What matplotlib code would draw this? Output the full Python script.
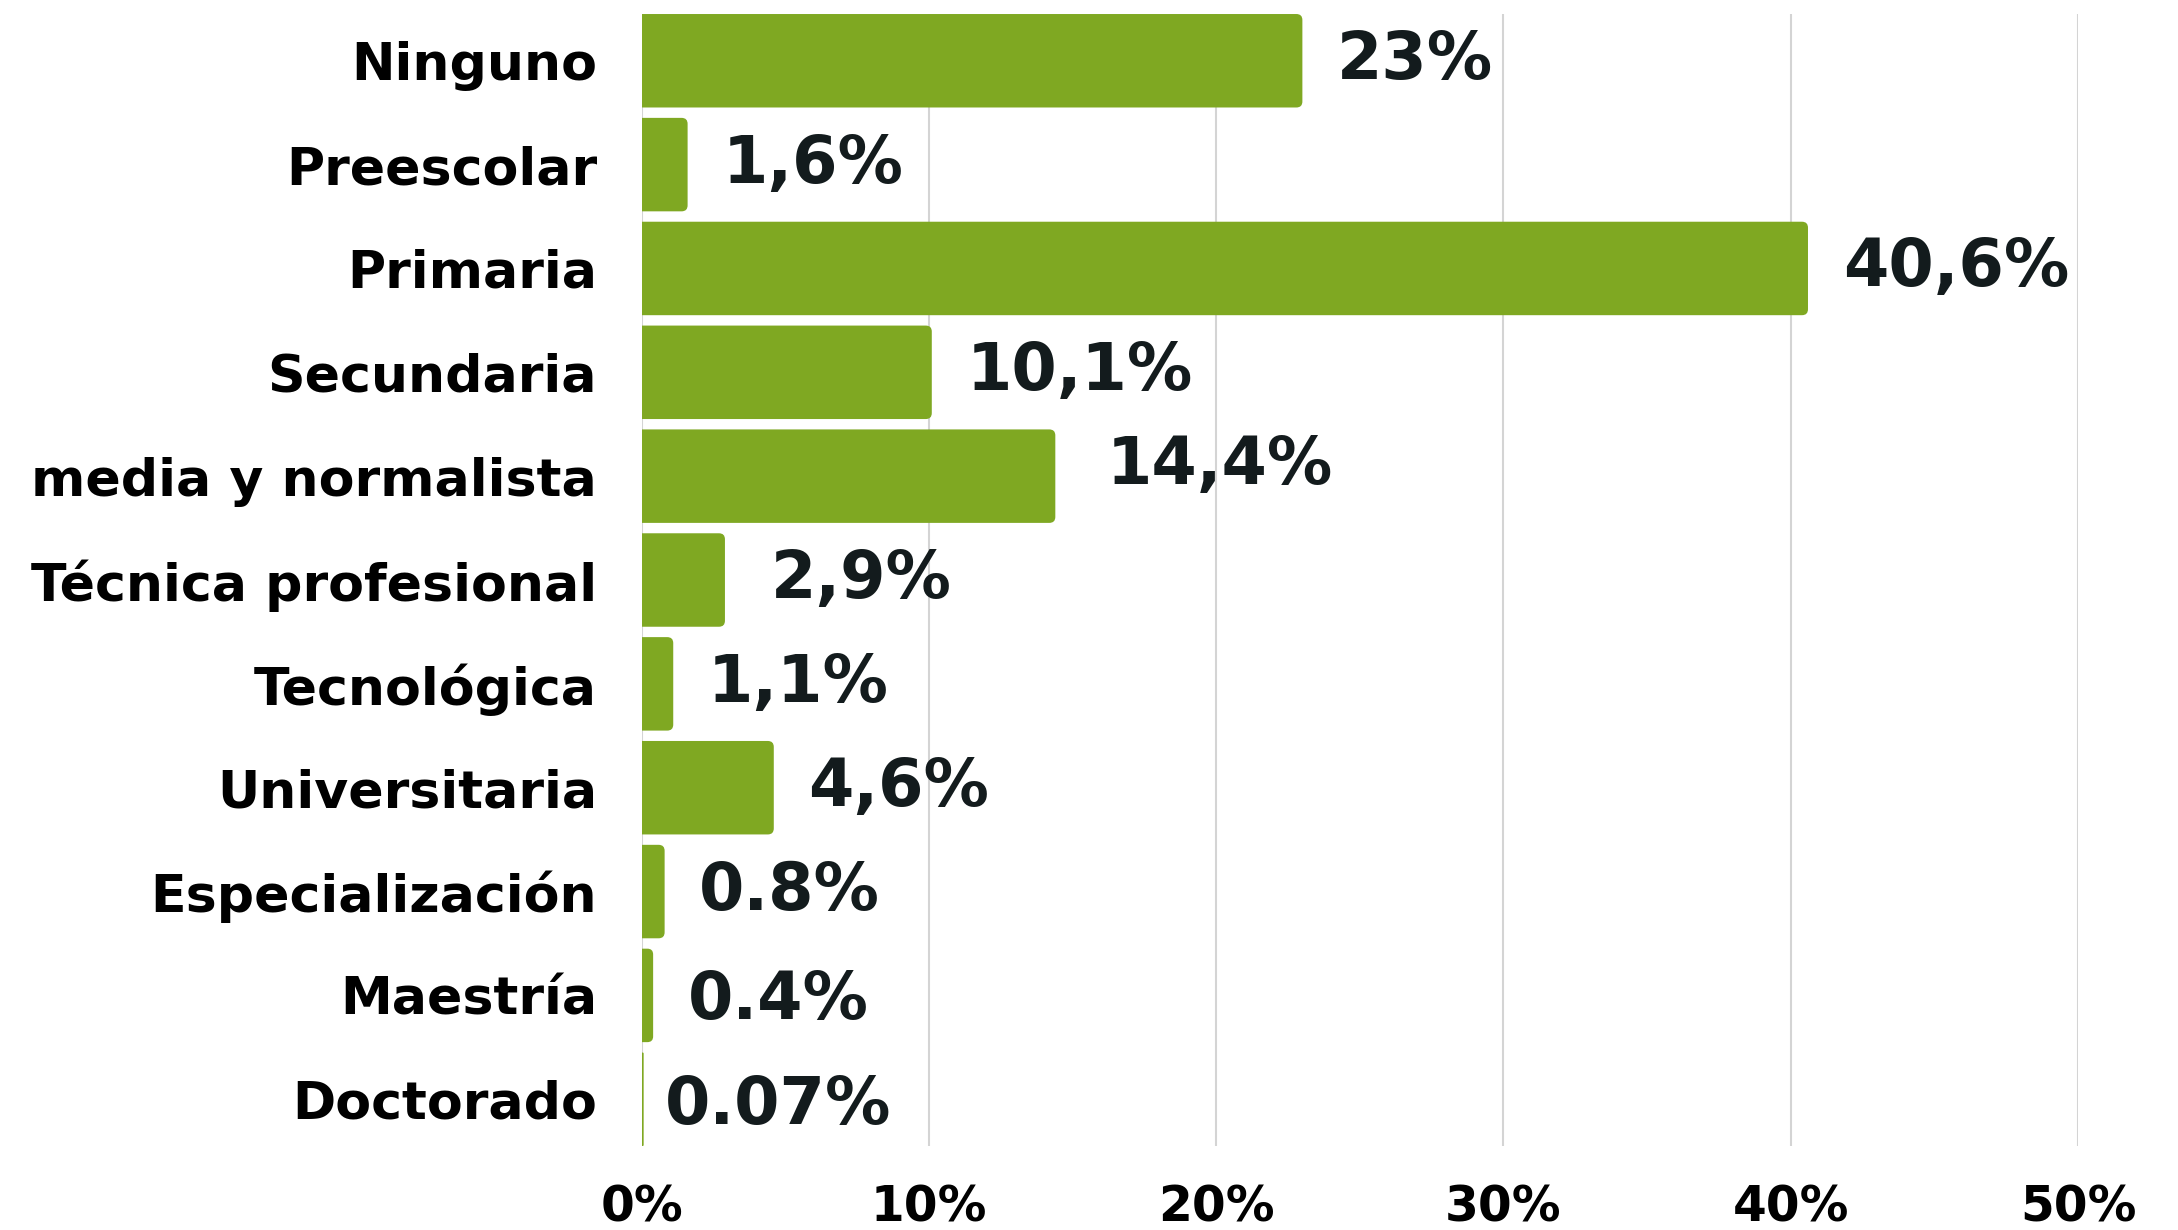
"""
Nivel educativo: horizontal bar chart with percentage labels.
"""

import matplotlib.pyplot as plt
from matplotlib.patches import FancyBboxPatch
from matplotlib.ticker import FuncFormatter

# Data
CATEGORIES = [
    "Ninguno",
    "Preescolar",
    "Primaria",
    "Secundaria",
    "media y normalista",
    "Técnica profesional",
    "Tecnológica",
    "Universitaria",
    "Especialización",
    "Maestría",
    "Doctorado",
]
VALUES = [23.0, 1.6, 40.6, 10.1, 14.4, 2.9, 1.1, 4.6, 0.8, 0.4, 0.07]
VALUE_LABELS = ["23%", "1,6%", "40,6%", "10,1%", "14,4%", "2,9%",
                "1,1%", "4,6%", "0.8%", "0.4%", "0.07%"]
X_TICKS = [0, 10, 20, 30, 40, 50]

BAR_COLOR = "#7fa822"
LABEL_COLOR = "#131b1d"
GRID_COLOR = "#d4d4d4"
FONT = "DejaVu Sans"

# small nudges (points) for a few labels, as placed in the original
LABEL_NUDGE = {4: (12, 7), 5: (8, 0), 9: (0, -4), 10: (-10, -5)}

fig = plt.figure(figsize=(21.78, 12.30), dpi=100)
ax = fig.add_axes([0.2946, 0.0683, 0.6595, 0.9203])

y_pos = list(range(len(CATEGORIES)))
bar_h = 0.9

# px per data unit, used to keep the corner radius round
px_x = 0.6595 * 2178 / 50
px_y = 0.9203 * 1230 / 10.9
radius_px = 6

ax.set_xlim(0, 50)
ax.set_ylim(len(CATEGORIES) - 0.55, -0.45)

for y, v in zip(y_pos, VALUES):
    r = min(radius_px / px_x, v / 2)
    patch = FancyBboxPatch(
        (-1.0, y - bar_h / 2), v + 1.0, bar_h,
        boxstyle=f"round,pad=0,rounding_size={r}",
        mutation_aspect=px_x / px_y,
        facecolor=BAR_COLOR, edgecolor="none", zorder=3,
    )
    ax.add_patch(patch)
    patch.set_clip_path(ax.patch)

for i, (v, lab) in enumerate(zip(VALUES, VALUE_LABELS)):
    dx, dy = LABEL_NUDGE.get(i, (0, 0))
    ax.annotate(
        lab, (v, i), xytext=(25 + dx, dy), textcoords="offset points",
        ha="left", va="center", fontsize=47, fontweight="bold",
        color=LABEL_COLOR, family=FONT, zorder=4,
    )

ax.set_yticks(y_pos)
ax.set_yticklabels(CATEGORIES, fontsize=37.5, fontweight="bold", family=FONT)
ax.set_xticks(X_TICKS)
ax.xaxis.set_major_formatter(FuncFormatter(lambda x, _: f"{x:.0f}%"))
for t in ax.get_xticklabels():
    t.set_fontsize(35)
    t.set_fontweight("bold")
    t.set_family(FONT)

ax.tick_params(axis="y", length=0, pad=32)
ax.tick_params(axis="x", length=0, pad=27)
ax.grid(axis="x", color=GRID_COLOR, linewidth=1.5, zorder=0)
ax.set_axisbelow(True)
for spine in ax.spines.values():
    spine.set_visible(False)

fig.savefig("out.png", dpi=100)
